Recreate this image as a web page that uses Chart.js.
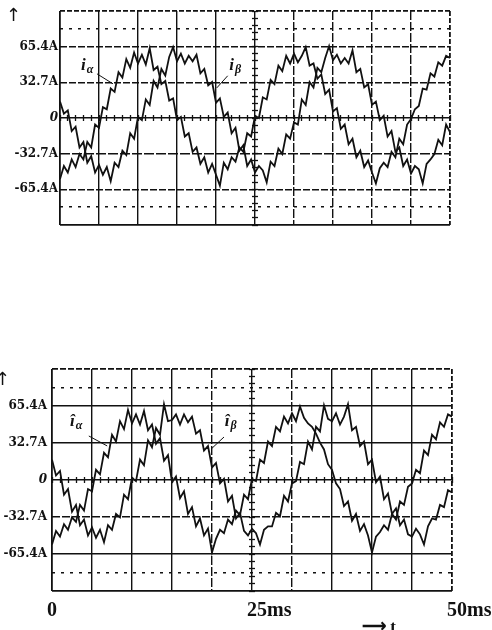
<!DOCTYPE html>
<html>
<head>
<meta charset="utf-8">
<script src="https://cdn.jsdelivr.net/npm/chart.js@4.4.1/dist/chart.umd.min.js"></script>
<style>
  html, body { margin: 0; padding: 0; background: #fff; }
  #page { position: relative; width: 492px; height: 630px; overflow: hidden; background: #fff; }
  canvas { position: absolute; left: 0; }
  #top { top: 0; }
  #bottom { top: 355px; }
  .mark { position: absolute; color: #111; line-height: 1; white-space: nowrap; }
</style>
</head>
<body>
<div id="page">
  <canvas id="top" width="492" height="240"></canvas>
  <canvas id="bottom" width="492" height="275"></canvas>
  <span class="mark" style="left:6px;top:4px;font:18px 'DejaVu Sans';">↑</span>
  <span class="mark" style="left:-5px;top:368px;font:18px 'DejaVu Sans';">↑</span>
  <span class="mark" style="left:362px;top:616px;font:bold 17px 'Liberation Serif';">⟶ t</span>
</div>
<script>
// scope record, one sample every 0.5 ms over 0..50 ms
const SAMPLE_MS = 0.5;

// top trace: measured i_alpha, i_beta (A)
const iAlpha = [
  -56, -44, -50, -38, -45, -33, -38, -22, -27, -6,
  -9, 10, 8, 27, 24, 42, 37, 54, 46, 60,
  50, 58, 49, 64, 44, 47, 31, 34, 16, 18,
  -2, 1, -17, -14, -31, -27, -42, -36, -50, -42,
  -52, -62, -41, -47, -36, -40, -27, -31, -14, -17,
  2, 0, 19, 17, 35, 31, 48, 43, 57, 50,
  59, 51, 57, 65, 48, 50, 36, 40, 22, 26,
  6, 9, -10, -6, -24, -19, -36, -30, -45, -39,
  -50, -60, -46, -41, -45, -31, -36, -19, -24, -6,
  -1, 8, 11, 27, 26, 41, 38, 51, 48, 57, 55
];
const iBeta = [
  15, 4, 7, -12, -8, -27, -22, -41, -35, -50,
  -43, -52, -45, -58, -41, -45, -30, -34, -14, -19,
  1, -2, 17, 12, 34, 28, 45, 39, 56, 65,
  52, 59, 50, 57, 52, 58, 41, 45, 30, 33,
  14, 18, 1, 5, -14, -9, -30, -25, -44, -38,
  -50, -44, -48, -59, -40, -44, -28, -33, -15, -19,
  -4, -6, 17, 12, 33, 28, 46, 42, 55, 66,
  53, 58, 50, 55, 50, 62, 42, 45, 28, 31,
  12, 15, -2, 2, -17, -12, -31, -27, -44, -38,
  -51, -44, -47, -60, -42, -38, -33, -20, -25, -6, -13
];

// bottom trace: estimated currents
const iAlphaHat = [
  -57, -45, -50, -39, -44, -33, -37, -22, -27, -8,
  -10, 9, 5, 24, 20, 40, 34, 52, 45, 62,
  50, 58, 49, 61, 44, 49, 32, 37, 17, 22,
  -2, 3, -16, -10, -30, -24, -41, -34, -49, -43,
  -64, -52, -44, -47, -35, -39, -27, -31, -13, -17,
  1, -1, 18, 15, 34, 30, 47, 43, 56, 50,
  59, 52, 65, 55, 50, 47, 41, 33, 27, 14,
  9, -3, -8, -23, -19, -36, -30, -45, -39, -49,
  -64, -50, -46, -40, -44, -30, -35, -19, -22, -6,
  -3, 9, 6, 26, 22, 40, 36, 51, 47, 58, 56
];
const iBetaHat = [
  18, 4, 8, -13, -8, -28, -22, -40, -35, -49,
  -42, -51, -44, -55, -40, -44, -30, -33, -13, -17,
  2, -1, 18, 13, 35, 29, 46, 40, 67, 52,
  53, 58, 49, 58, 51, 56, 41, 44, 26, 30,
  11, 15, -3, 1, -19, -14, -34, -29, -45, -49,
  -43, -47, -57, -44, -41, -41, -29, -32, -14, -19,
  -3, -1, 16, 14, 34, 27, 47, 43, 66, 54,
  52, 59, 49, 56, 67, 44, 47, 30, 34, 14,
  18, -2, 3, -17, -12, -30, -25, -40, -35, -48,
  -50, -43, -48, -57, -41, -34, -35, -22, -24, -9, -11
];

// screen divisions
const timeGrid = [0, 5, 10, 15, 20, 25, 30, 35, 40, 45, 50];
const timeLabels = ['0', '', '', '', '', '25ms', '', '', '', '', '50ms'];
const ampGrid = [-98.1, -81.75, -65.4, -32.7, 0, 32.7, 65.4, 81.75, 98.1];
const ampLabels = ['', '', '-65.4A', '-32.7A', '0', '32.7A', '65.4A', '', ''];
const MINOR_MS = 1;      // small ticks on the zero line
const MINOR_AMP = 6.54;  // small ticks on the centre line

const INK = '#111';

function notesPlugin(notes) {
  return {
    id: 'scopeNotes',
    afterDatasetsDraw(chart) {
      const {ctx, scales: {x, y}} = chart;
      ctx.save();
      ctx.fillStyle = INK;
      ctx.strokeStyle = INK;
      ctx.lineWidth = 1;
      notes.forEach(n => {
        ctx.beginPath();
        ctx.moveTo(x.getPixelForValue(n.from[0]), y.getPixelForValue(n.from[1]));
        ctx.lineTo(x.getPixelForValue(n.to[0]), y.getPixelForValue(n.to[1]));
        ctx.stroke();
        const px = x.getPixelForValue(n.at[0]);
        const py = y.getPixelForValue(n.at[1]);
        ctx.textAlign = 'left';
        ctx.textBaseline = 'alphabetic';
        ctx.font = 'italic bold 17px "Liberation Serif"';
        ctx.fillText(n.text, px, py);
        const w = ctx.measureText(n.text).width;
        ctx.font = 'italic bold 12px "Liberation Serif"';
        ctx.fillText(n.sub, px + w + 1, py + 3);
      });
      ctx.restore();
    }
  };
}

function scopeChart(id, alpha, beta, o) {
  const pts = arr => arr.map((v, i) => ({x: i * SAMPLE_MS, y: v}));
  const trace = {borderColor: INK, borderWidth: 1.8, pointRadius: 0, tension: 0,
                 borderJoinStyle: 'miter', xAxisID: 'x', yAxisID: 'y'};
  const tickFont = ctx => (ctx.tick && ctx.tick.value === 0)
    ? {family: '"DejaVu Serif"', size: 12, weight: 'bold', style: 'italic'}
    : {family: '"DejaVu Serif"', size: 12, weight: 'bold'};

  return new Chart(document.getElementById(id), {
    type: 'line',
    data: {
      datasets: [
        {label: 'alpha', data: pts(alpha), ...trace},
        {label: 'beta', data: pts(beta), ...trace}
      ]
    },
    options: {
      responsive: false,
      animation: false,
      events: [],
      layout: {padding: o.pad},
      plugins: {legend: {display: false}, tooltip: {enabled: false}},
      scales: {
        x: {
          type: 'linear', min: 0, max: 50, bounds: 'data',
          afterBuildTicks: s => { s.ticks = timeGrid.map(v => ({value: v})); },
          afterFit: s => { s.height = o.xAxisH; s.paddingLeft = 0; s.paddingRight = 0; },
          grid: {color: INK, drawTicks: false,
                 lineWidth: ctx => (ctx.index === 0 || ctx.index === timeGrid.length - 1) ? 1.8 : 1.4},
          border: {display: false, dash: ctx => ctx.tick ? o.vDash[ctx.index] : []},
          ticks: {
            display: o.showTime, autoSkip: false, maxRotation: 0, minRotation: 0,
            align: 'start', labelOffset: -5, padding: 8, color: INK,
            font: {family: '"Liberation Serif"', size: 20, weight: 'bold'},
            callback: (v, i) => timeLabels[i]
          }
        },
        y: {
          type: 'linear', min: -98.1, max: 98.1, bounds: 'data',
          afterBuildTicks: s => { s.ticks = ampGrid.map(v => ({value: v})); },
          afterFit: s => { s.width = o.yAxisW; s.paddingTop = 0; s.paddingBottom = 0; },
          grid: {color: INK, drawTicks: false,
                 lineWidth: ctx => (ctx.index === 0 || ctx.index === ampGrid.length - 1) ? 1.8 : 1.4},
          border: {display: false, dash: ctx => ctx.tick ? o.hDash[ctx.index] : []},
          ticks: {autoSkip: false, padding: o.yPad, color: INK, font: tickFont,
                  callback: (v, i) => ampLabels[i]}
        },
        xm: {
          type: 'linear', axis: 'x', position: {y: o.half.amp}, min: 0, max: 50,
          afterBuildTicks: s => {
            const t = [];
            for (let v = 0; v <= 50; v += MINOR_MS) t.push({value: v});
            s.ticks = t;
          },
          grid: {drawOnChartArea: false, drawTicks: true, tickLength: 6, tickWidth: 1.3, tickColor: INK},
          border: {display: false},
          ticks: {display: false}
        },
        ym: {
          type: 'linear', axis: 'y', position: {x: 25 + o.half.ms}, min: -98.1, max: 98.1,
          afterBuildTicks: s => {
            const t = [];
            for (let k = -15; k <= 15; k++) t.push({value: k * MINOR_AMP});
            s.ticks = t;
          },
          grid: {drawOnChartArea: false, drawTicks: true, tickLength: 6, tickWidth: 1.3, tickColor: INK},
          border: {display: false},
          ticks: {display: false}
        }
      }
    },
    plugins: [notesPlugin(o.notes)]
  });
}

scopeChart('top', iAlpha, iBeta, {
  pad: {top: 11, right: 42, bottom: 15, left: 0},
  xAxisH: 0, yAxisW: 60, yPad: 2, showTime: false,
  half: {ms: 0.385, amp: 2.75},
  hDash: [[], [3, 6], [7, 2], [10, 2], [], [7, 2], [7, 2], [3, 6], [5, 2]],
  vDash: [[], [], [], [], [], [], [9, 2], [9, 2], [9, 2], [9, 2], [5, 2]],
  notes: [
    {text: 'i', sub: 'α', at: [2.7, 44.2], from: [4.74, 40.5], to: [6.8, 31.3]},
    {text: 'i', sub: 'β', at: [21.7, 44.2], from: [21.5, 38.7], to: [20.1, 27.6]}
  ]
});

scopeChart('bottom', iAlphaHat, iBetaHat, {
  pad: {top: 14, right: 40, bottom: 0, left: 0},
  xAxisH: 39, yAxisW: 52, yPad: 5, showTime: true,
  half: {ms: 0.375, amp: 2.65},
  hDash: [[], [3, 6], [], [8, 2], [], [], [], [3, 6], [6, 2]],
  vDash: [[], [], [], [], [9, 2], [], [9, 2], [], [], [], [5, 2]],
  notes: [
    {text: 'î', sub: 'α', at: [2.25, 47.7], from: [4.6, 38.9], to: [6.9, 30.1]},
    {text: 'î', sub: 'β', at: [21.6, 47.7], from: [21.5, 38], to: [19.9, 27.4]}
  ]
});
</script>
</body>
</html>
